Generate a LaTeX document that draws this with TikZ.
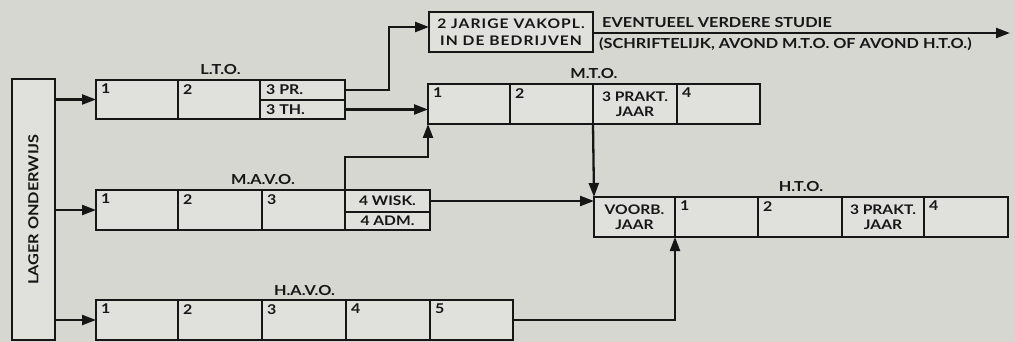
\documentclass[tikz,border=0pt]{standalone}
\usepackage{fontspec}
\setmainfont{Lato}[FakeStretch=1.18]
\usetikzlibrary{arrows.meta,calc}
\definecolor{paper}{RGB}{214,215,209}
\definecolor{cellbg}{RGB}{224,225,220}
\definecolor{ink}{RGB}{22,22,22}
\newcommand\mycell[6]{\node[cell, anchor=north west, minimum width={#3-#2}, minimum height={#5-#4}] (#1) at (#2,#4) {#6};}
\newcommand\cnum[2]{\node[txt, anchor=north west] at ($(#1.north west)+(5,4)$) {#2};}
\begin{document}
\begin{tikzpicture}[x=1pt,y=-1pt,
  txt/.style={font=\fontsize{13.5}{14}\selectfont\bfseries, text=ink, inner sep=0pt},
  lab/.style={font=\fontsize{13.8}{14}\selectfont\bfseries, text=ink, inner sep=0pt},
  cell/.style={draw=ink, line width=2.8pt, fill=cellbg, inner sep=0pt, outer sep=0pt,
     align=center, font=\fontsize{13.2}{14.5}\selectfont\bfseries, text=ink},
  arr/.style={draw=ink, line width=2.3pt, -{Triangle[length=14pt,width=10pt]}},
  ln/.style={draw=ink, line width=2.3pt}]
\useasboundingbox[fill=paper] (0,0) rectangle (1015,342);
% LAGER ONDERWIJS
\mycell{lager}{12}{55}{79}{340}{}
\node[lab, rotate=90] at (lager.center) {LAGER ONDERWIJS};
% L.T.O.
\mycell{l1}{96}{178}{80}{119}{}
\mycell{l2}{178}{260}{80}{119}{}
\mycell{lPR}{260}{345}{80}{100}{}
\mycell{lTH}{260}{345}{100}{119}{}
\cnum{l1}{1}\cnum{l2}{2}
\node[txt, anchor=west] at ($(lPR.west)+(6,0)$) {3 PR.};
\node[txt, anchor=west] at ($(lTH.west)+(6,0)$) {3 TH.};
\node[lab, anchor=base] at ($(l1.north west)!0.5!(lPR.north east)+(0,-5)$) {L.T.O.};
% M.T.O.
\mycell{t1}{428}{510}{84}{124}{}
\mycell{t2}{510}{593}{84}{124}{}
\mycell{t3}{593}{677}{84}{124}{3 PRAKT.\\JAAR}
\mycell{t4}{677}{760}{84}{124}{}
\cnum{t1}{1}\cnum{t2}{2}\cnum{t4}{4}
\node[lab, anchor=base] at ($(t1.north west)!0.5!(t4.north east)+(0,-5)$) {M.T.O.};
% 2 JARIGE
\mycell{jar}{429}{593}{12}{52}{\addfontfeature{LetterSpace=8}2 JARIGE VAKOPL.\\[2pt]\addfontfeature{LetterSpace=8}IN DE BEDRIJVEN}
% M.A.V.O.
\mycell{m1}{96}{178}{190}{230}{}
\mycell{m2}{178}{262}{190}{230}{}
\mycell{m3}{262}{345}{190}{230}{}
\mycell{mW}{345}{430}{190}{212}{4 WISK.}
\mycell{mA}{345}{430}{212}{230}{4 ADM.}
\cnum{m1}{1}\cnum{m2}{2}\cnum{m3}{3}
\node[lab, anchor=base] at ($(m1.north west)!0.5!(mW.north east)+(0,-5)$) {M.A.V.O.};
% H.A.V.O.
\mycell{h1}{96}{178}{300}{340}{}
\mycell{h2}{178}{262}{300}{340}{}
\mycell{h3}{262}{346}{300}{340}{}
\mycell{h4}{346}{430}{300}{340}{}
\mycell{h5}{430}{513}{300}{340}{}
\cnum{h1}{1}\cnum{h2}{2}\cnum{h3}{3}\cnum{h4}{4}\cnum{h5}{5}
\node[lab, anchor=base] at ($(h1.north west)!0.5!(h5.north east)+(0,-5)$) {H.A.V.O.};
% H.T.O.
\mycell{v}{594}{675}{197}{237}{VOORB.\\JAAR}
\mycell{o1}{675}{758}{197}{237}{}
\mycell{o2}{758}{842}{197}{237}{}
\mycell{o3}{842}{924}{197}{237}{3 PRAKT.\\JAAR}
\mycell{o4}{924}{1008}{197}{237}{}
\cnum{o1}{1}\cnum{o2}{2}\cnum{o4}{4}
\node[lab, anchor=base] at ($(v.north west)!0.5!(o4.north east)+(0,-5)$) {H.T.O.};
% further study
\coordinate (endst) at (1010,33);
\draw[arr] (jar.east |- endst) -- (endst);
\node[lab, anchor=base west] at (602,28) {EVENTUEEL VERDERE STUDIE};
\node[lab, anchor=base west] at (599,49) {(SCHRIFTELIJK, AVOND M.T.O. OF AVOND H.T.O.)};
% connectors
\draw[arr] (lager.east |- l1.west) -- (l1.west);
\draw[arr] (lager.east |- m1.west) -- (m1.west);
\draw[arr] (lager.east |- h1.west) -- (h1.west);
\draw[arr] (lPR.east) -- ++(44,0) |- ($(jar.west)+(0,-5)$);
\draw[arr] (lTH.east) -- (lTH.east -| t1.west);
\draw[arr] (m3.north east) -- ++(0,-33) -| (t1.south west);
\draw[arr] (mW.east) -- (mW.east -| v.west);
\draw[arr] (t3.south west) -- (v.north west);
\draw[arr] (h5.east) -| (o1.south west);
\end{tikzpicture}
\end{document}
